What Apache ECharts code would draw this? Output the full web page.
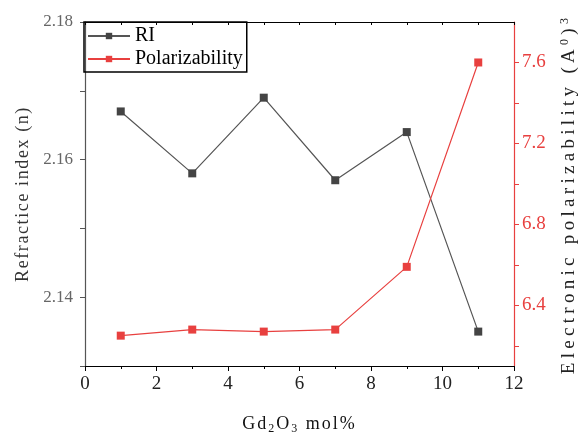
<!DOCTYPE html>
<html>
<head>
<meta charset="utf-8">
<script src="https://cdn.jsdelivr.net/npm/echarts@6/dist/echarts.min.js"></script>
<style>html,body{margin:0;padding:0;background:#fff}#c{width:582px;height:436px}</style>
</head>
<body>
<div id="c"></div>
<script>
const xValues = [1, 3, 5, 7, 9, 11];
const riValues = [2.167, 2.158, 2.169, 2.157, 2.164, 2.135];
const polValues = [6.25, 6.28, 6.27, 6.28, 6.59, 7.6];
const leftTickValues = [2.13, 2.14, 2.15, 2.16, 2.17, 2.18];
const leftLabelValues = [2.14, 2.16, 2.18];
const rightTickValues = [6.2, 6.4, 6.6, 6.8, 7.0, 7.2, 7.4, 7.6];
const rightLabelValues = [6.4, 6.8, 7.2, 7.6];
const xTitleParts = [['n', 'Gd'], ['s', '2'], ['n', 'O'], ['s', '3'], ['n', ' mol%']];
const leftTitleParts = [['n', 'Refractice index (n)']];
const rightTitleParts = [['n', 'Electronic polarizability (A'], ['p', '0'], ['n', ')'], ['p', '3']];

const FONT = 'Liberation Serif';
const RED = '#e8403f';

// letter-spaced rich text: one token per character
function spaced(parts) {
  return parts.map(([st, txt]) => txt.split('').map(ch => '{' + st + '|' + ch + '}').join('')).join('');
}
function richSet(size, subSize, ls, color) {
  return {
    n: {fontFamily: FONT, fontSize: size, color: color, padding: [0, ls, 0, 0]},
    s: {fontFamily: FONT, fontSize: subSize, color: color, padding: [9, ls, 0, 0]},
    p: {fontFamily: FONT, fontSize: subSize, color: color, padding: [0, ls, 9, 0]}
  };
}

const chart = echarts.init(document.getElementById('c'), null, {renderer: 'canvas'});
chart.setOption({
  animation: false,
  backgroundColor: '#fff',
  grid: {left: 85, right: 68, top: 22, bottom: 70, containLabel: false, outerBoundsMode: 'none'},
  legend: {
    orient: 'vertical', left: 84, top: 22,
    borderColor: '#000', borderWidth: 1.5, borderRadius: 0,
    padding: [4, 4, 3, 3], itemGap: 3,
    itemWidth: 42, itemHeight: 8,
    textStyle: {fontFamily: FONT, fontSize: 20, color: '#000'},
    data: ['RI', 'Polarizability']
  },
  xAxis: [{
    type: 'value', min: 0, max: 12, interval: 2,
    axisLine: {onZero: false, lineStyle: {color: '#000', width: 1.2}},
    axisTick: {show: true, inside: false, length: 5, lineStyle: {color: '#000'}},
    minorTick: {show: true, splitNumber: 2, length: 3, lineStyle: {color: '#000'}},
    splitLine: {show: false},
    axisLabel: {fontFamily: FONT, fontSize: 19, color: '#222', margin: 9},
    name: spaced(xTitleParts), nameLocation: 'middle', nameGap: 48,
    nameTextStyle: {rich: richSet(18, 12, 2, '#111')}
  }, {
    type: 'value', position: 'top', min: 0, max: 12, interval: 1,
    axisLine: {show: true, onZero: false, lineStyle: {color: '#000', width: 1.2}},
    axisTick: {show: true, inside: true, length: 3, lineStyle: {color: '#000'}},
    axisLabel: {show: false}, splitLine: {show: false}
  }],
  yAxis: [{
    type: 'value', min: 2.13, max: 2.18, position: 'left',
    axisLine: {show: true, onZero: false, lineStyle: {color: '#555', width: 1.2}},
    axisTick: {show: true, length: 5, customValues: leftTickValues, lineStyle: {color: '#555'}},
    axisLabel: {fontFamily: FONT, fontSize: 17, color: '#666', margin: 12,
      customValues: leftLabelValues, formatter: v => Number(v).toFixed(2)},
    splitLine: {show: false},
    name: spaced(leftTitleParts), nameLocation: 'middle', nameGap: 48,
    nameTextStyle: {rich: richSet(18, 12, 1.6, '#333')}
  }, {
    type: 'value', min: 6.1, max: 7.8, position: 'right',
    axisLine: {show: true, onZero: false, lineStyle: {color: RED, width: 1.2}},
    axisTick: {show: true, length: 5, customValues: rightTickValues, lineStyle: {color: RED}},
    axisLabel: {fontFamily: FONT, fontSize: 19, color: RED, margin: 8,
      customValues: rightLabelValues, formatter: v => Number(v).toFixed(1)},
    splitLine: {show: false},
    name: spaced(rightTitleParts), nameLocation: 'middle', nameGap: 45,
    nameTextStyle: {rich: richSet(19, 12, 4.3, '#222')}
  }],
  series: [{
    name: 'RI', type: 'line', xAxisIndex: 0, yAxisIndex: 0,
    data: xValues.map((x, i) => [x, riValues[i]]),
    symbol: 'rect', symbolSize: 8,
    lineStyle: {color: '#555', width: 1.2},
    itemStyle: {color: '#444'}
  }, {
    name: 'Polarizability', type: 'line', xAxisIndex: 0, yAxisIndex: 1,
    data: xValues.map((x, i) => [x, polValues[i]]),
    symbol: 'rect', symbolSize: 8,
    lineStyle: {color: RED, width: 1.2},
    itemStyle: {color: RED}
  }]
});
</script>
</body>
</html>
